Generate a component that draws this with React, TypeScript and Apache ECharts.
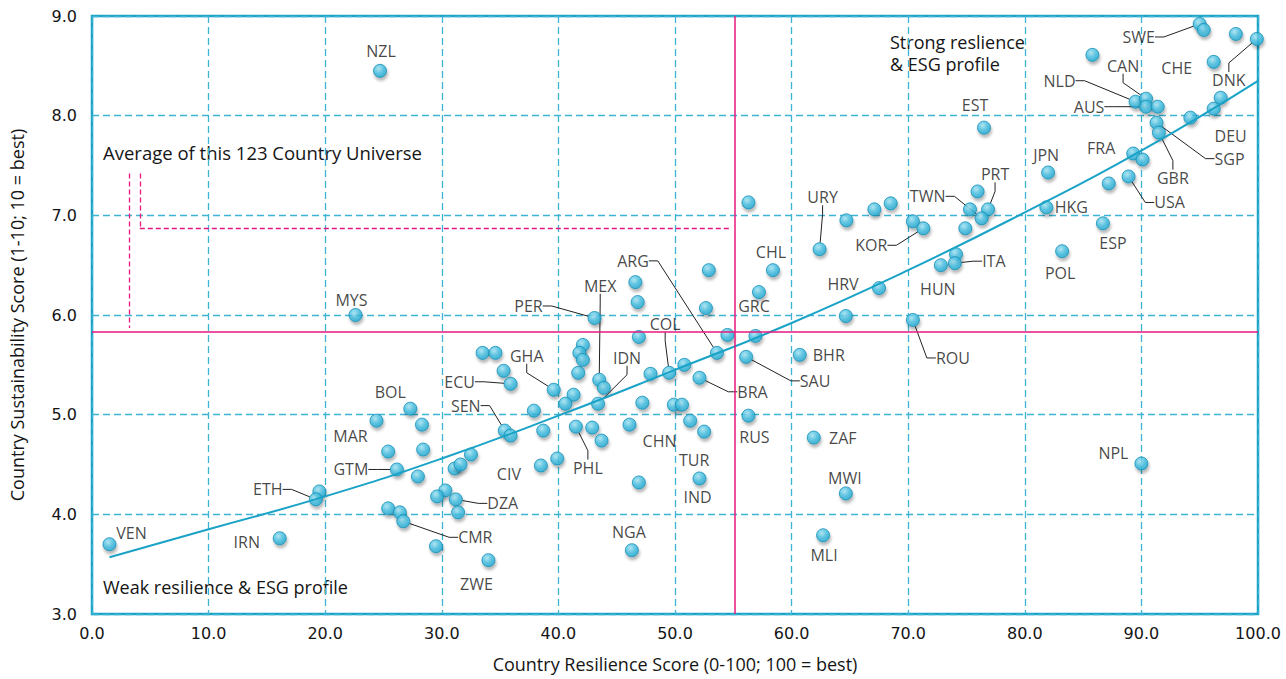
import React, { useEffect, useRef } from "react";
import * as echarts from "echarts";

// ---- Data ----
const countryCodes = [
  "NZL", "", "", "SWE", "", "", "DNK", "CHE", "NLD", "CAN", "AUS", "", "", "DEU", "", "SGP", "GBR", "FRA", "", "USA",
  "", "JPN", "HKG", "ESP", "EST", "", "PRT", "", "TWN", "", "", "KOR", "", "", "", "URY", "", "ITA", "HUN", "POL",
  "HRV", "", "ROU", "BHR", "ZAF", "NPL", "MWI", "MLI",
  "", "CHL", "", "", "", "GRC", "PER", "", "", "", "ARG", "SAU", "BRA", "", "", "", "", "", "", "ECU",
  "", "GHA", "MEX", "", "IDN", "", "", "", "COL", "", "", "", "", "RUS", "", "BOL", "", "", "SEN", "",
  "PHL", "", "", "CHN", "", "TUR", "", "", "MAR",
  "", "", "", "CIV", "", "", "IND", "", "", "DZA", "", "", "ZWE", "NGA", "VEN", "IRN", "", "ETH", "GTM", "",
  "", "", "CMR", "MYS",
];

const resilienceScores = [
  24.7, 56.3, 85.8, 95.0, 95.35, 98.1, 99.9, 96.2, 89.5, 90.4, 90.4, 91.4, 96.8, 96.2, 94.2, 91.3, 91.5, 89.3, 90.1, 88.9,
  87.2, 82.0, 81.85, 86.7, 76.5, 75.95, 76.85, 75.3, 76.3, 74.9, 70.4, 71.3, 64.7, 67.1, 68.5, 62.4, 74.1, 74.0, 72.8, 83.2,
  67.5, 64.65, 70.4, 60.7, 61.9, 90.0, 64.65, 62.7,
  52.9, 58.4, 46.6, 46.8, 52.65, 57.2, 43.1, 46.9, 54.5, 56.9, 53.6, 56.1, 52.1, 42.1, 41.8, 42.1, 33.5, 34.6, 35.3, 35.9,
  41.7, 39.6, 43.5, 43.9, 43.4, 41.3, 40.6, 47.9, 49.5, 50.8, 47.2, 49.9, 50.6, 56.3, 37.9, 27.3, 28.3, 38.7, 35.4, 35.9,
  41.5, 42.9, 43.7, 46.1, 51.3, 52.5, 28.4, 32.5, 24.4,
  31.1, 31.6, 27.95, 38.5, 39.9, 46.9, 52.1, 30.3, 29.6, 31.2, 31.4, 29.5, 34.0, 46.3, 1.5, 16.1, 19.5, 19.2, 26.15, 25.4,
  25.4, 26.4, 26.7, 22.6,
];

const sustainabilityScores = [
  8.45, 7.13, 8.61, 8.92, 8.86, 8.82, 8.77, 8.54, 8.14, 8.17, 8.09, 8.09, 8.18, 8.07, 7.98, 7.93, 7.83, 7.62, 7.56, 7.39,
  7.32, 7.43, 7.08, 6.92, 7.88, 7.24, 7.06, 7.06, 6.97, 6.87, 6.94, 6.87, 6.95, 7.06, 7.12, 6.66, 6.61, 6.52, 6.50, 6.64,
  6.27, 5.99, 5.95, 5.60, 4.77, 4.51, 4.21, 3.79,
  6.45, 6.45, 6.33, 6.13, 6.07, 6.23, 5.97, 5.78, 5.80, 5.79, 5.62, 5.58, 5.37, 5.70, 5.62, 5.55, 5.62, 5.62, 5.44, 5.31,
  5.42, 5.25, 5.35, 5.27, 5.11, 5.20, 5.11, 5.41, 5.42, 5.50, 5.12, 5.10, 5.10, 4.99, 5.04, 5.06, 4.90, 4.84, 4.84, 4.79,
  4.88, 4.87, 4.74, 4.90, 4.94, 4.83, 4.65, 4.60, 4.94,
  4.46, 4.50, 4.38, 4.49, 4.56, 4.32, 4.36, 4.24, 4.18, 4.15, 4.02, 3.68, 3.54, 3.64, 3.70, 3.76, 4.23, 4.15, 4.45, 4.63,
  4.06, 4.02, 3.93, 6.00,
];

const averageResilience = 55.1;
const averageSustainability = 5.83;

// trend line
const trendResilience = [1.5, 10, 20, 30, 40, 50, 60, 70, 80, 90, 100];
const trendSustainability = [3.57, 3.85, 4.18, 4.56, 4.99, 5.45, 5.92, 6.45, 7.03, 7.65, 8.35];

// "Average" bracket annotation (data coordinates)
const bracketLines: [number, number, number, number][] = [
  [3.21, 7.42, 3.21, 5.87],
  [4.1, 7.42, 4.1, 6.87],
  [4.1, 6.87, 54.7, 6.87],
];

const xTicks = { min: 0, max: 100, step: 10 };
const yTicks = { min: 3, max: 9, step: 1 };

// label placement (pixel offset from point centre, leader line?)
const labelOffsets: Record<string, [number, number, boolean]> = {
  NZL: [1, -20, false], MYS: [-4, -15, false], BOL: [-20, -17, false], MAR: [-26, 15, false],
  VEN: [22, -11, false], IRN: [-33, 4, false], ZWE: [-12, 24, false], NGA: [-3, -18, false],
  CHL: [-2, -18, false], RUS: [6, 21, false], MLI: [1, 20, false], MWI: [-1, -15, false],
  ZAF: [29, 0, false], NPL: [-28, -11, false], BHR: [29, 0, false], HRV: [-36, -4, false],
  HUN: [-3, 24, false], POL: [-2, 22, false], ESP: [10, 20, false], EST: [-9, -23, false],
  JPN: [-2, -17, false], HKG: [25, 0, false], FRA: [-32, -6, false], DEU: [17, 27, false],
  CHE: [-37, 6, false], CIV: [-32, 9, false], CHN: [30, 16, false], GRC: [-5, 14, false],
  TUR: [-10, 28, false], IND: [-2, 19, false],
  GTM: [-46, 0, true], ETH: [-48, -10, true], CMR: [72, 16, true], DZA: [47, 4, true],
  SEN: [-39, -25, true], ECU: [-51, -2, true], GHA: [-27, -34, true], PER: [-66, -12, true],
  MEX: [1, -94, true], IDN: [29, -46, true], PHL: [12, 41, true], COL: [-4, -49, true],
  ARG: [-84, -92, true], BRA: [53, 14, true], SAU: [69, 24, true], ROU: [40, 38, true],
  ITA: [39, -2, true], KOR: [-52, 17, true], TWN: [-54, -22, true], PRT: [7, -35, true],
  URY: [3, -52, true], USA: [41, 26, true], GBR: [14, 45, true], SGP: [73, 36, true],
  DNK: [-28, 41, true], SWE: [-61, 13, true], CAN: [-23, -33, true], NLD: [-76, -21, true],
  AUS: [-57, 0, true],
};

const TEAL = "#1aa3c6";
const GRID_TEAL = "#3db4d3";
const PINK = "#e6187e";
const TEXT = "#151515";
const LABEL_FONT = "'Open Sans', 'Noto Sans', sans-serif";
const TICK_FONT = "'DejaVu Sans', sans-serif";

export default function App() {
  const ref = useRef<HTMLDivElement>(null);

  useEffect(() => {
    if (!ref.current) return;
    const chart = echarts.init(ref.current, undefined, { renderer: "svg" });

    const pointData = countryCodes.map((code, i) => {
      const off = labelOffsets[code];
      return {
        name: code,
        value: [resilienceScores[i], sustainabilityScores[i]],
        label: { show: !!code },
        labelLine: { show: !!(off && off[2]) },
      };
    });

    const trendData = trendResilience.map((x, i) => [x, trendSustainability[i]]);

    const bracketStyle = { color: PINK, width: 1.3, type: [5, 3] as any };
    const markLineData: any[] = [
      { xAxis: averageResilience, lineStyle: { color: PINK, width: 1.5, type: "solid" } },
      { yAxis: averageSustainability, lineStyle: { color: PINK, width: 1.5, type: "solid" } },
      ...bracketLines.map((b) => [
        { coord: [b[0], b[1]], lineStyle: bracketStyle },
        { coord: [b[2], b[3]], lineStyle: bracketStyle },
      ]),
    ];

    const option: any = {
      animation: false,
      backgroundColor: "#ffffff",
      grid: {
        left: 92,
        right: 28,
        top: 16,
        bottom: 65,
        show: true,
        borderColor: TEAL,
        borderWidth: 2.5,
        backgroundColor: "transparent",
      },
      xAxis: {
        type: "value",
        min: xTicks.min,
        max: xTicks.max,
        interval: xTicks.step,
        name: "Country Resilience Score (0-100; 100 = best)",
        nameLocation: "middle",
        nameGap: 41,
        nameTextStyle: { fontFamily: LABEL_FONT, fontSize: 18, color: TEXT, fontWeight: 500 },
        axisLine: { show: false },
        axisTick: { show: false },
        axisLabel: {
          formatter: (v: number) => v.toFixed(1),
          fontFamily: TICK_FONT,
          fontSize: 16,
          color: TEXT,
          margin: 11,
        },
        splitLine: { show: true, lineStyle: { color: GRID_TEAL, width: 1.3, type: [7, 4] } },
      },
      yAxis: {
        type: "value",
        min: yTicks.min,
        max: yTicks.max,
        interval: yTicks.step,
        name: "Country Sustainability Score (1-10; 10 = best)",
        nameLocation: "middle",
        nameRotate: 90,
        nameGap: 66,
        nameTextStyle: { fontFamily: LABEL_FONT, fontSize: 18, color: TEXT, fontWeight: 500 },
        axisLine: { show: false },
        axisTick: { show: false },
        axisLabel: {
          formatter: (v: number) => v.toFixed(1),
          fontFamily: TICK_FONT,
          fontSize: 16,
          color: TEXT,
          margin: 15,
        },
        splitLine: { show: true, lineStyle: { color: GRID_TEAL, width: 1.3, type: [7, 4] } },
      },
      series: [
        {
          type: "line",
          data: [],
          z: 1,
          silent: true,
          markLine: {
            silent: true,
            symbol: ["none", "none"],
            label: { show: false },
            emphasis: { disabled: true },
            data: markLineData,
          },
        },
        {
          type: "scatter",
          z: 2,
          symbolSize: 13,
          data: pointData,
          itemStyle: {
            color: new echarts.graphic.RadialGradient(0.4, 0.35, 0.7, [
              { offset: 0, color: "#a6e4f4" },
              { offset: 0.5, color: "#45bfe2" },
              { offset: 1, color: "#1ea6cf" },
            ]),
            borderColor: "#168fb4",
            borderWidth: 1,
            shadowBlur: 3,
            shadowColor: "rgba(0,0,0,0.35)",
            shadowOffsetX: 1,
            shadowOffsetY: 3,
          },
          label: {
            show: true,
            position: "inside",
            formatter: (p: any) => p.name,
            fontFamily: LABEL_FONT,
            fontSize: 16,
            fontWeight: 500,
            color: TEXT,
          },
          labelLine: {
            show: true,
            length2: 9,
            minTurnAngle: 0,
            lineStyle: { color: "#222222", width: 1 },
          },
          labelLayout: (params: any) => {
            const code = countryCodes[params.dataIndex];
            const off = labelOffsets[code];
            if (!off) return {};
            return { dx: off[0], dy: off[1] };
          },
          emphasis: { disabled: true },
        },
        {
          type: "line",
          z: 3,
          data: trendData,
          smooth: true,
          showSymbol: false,
          symbol: "none",
          silent: true,
          lineStyle: { color: TEAL, width: 2 },
        },
      ],
      graphic: [
        {
          type: "text",
          left: 890,
          top: 33,
          style: { text: "Strong reslience", font: `500 18px ${LABEL_FONT}`, fill: TEXT },
        },
        {
          type: "text",
          left: 890,
          top: 55,
          style: { text: "& ESG profile", font: `500 18px ${LABEL_FONT}`, fill: TEXT },
        },
        {
          type: "text",
          left: 103,
          top: 143,
          style: { text: "Average of this 123 Country Universe", font: `500 18.5px ${LABEL_FONT}`, fill: TEXT },
        },
        {
          type: "text",
          left: 103,
          top: 578,
          style: { text: "Weak resilience & ESG profile", font: `500 18px ${LABEL_FONT}`, fill: TEXT },
        },
      ],
    };

    chart.setOption(option);
    return () => chart.dispose();
  }, []);

  return (
    <div
      ref={ref}
      style={{ position: "absolute", left: 0, top: 0, width: 1286, height: 679, background: "#fff" }}
    />
  );
}
